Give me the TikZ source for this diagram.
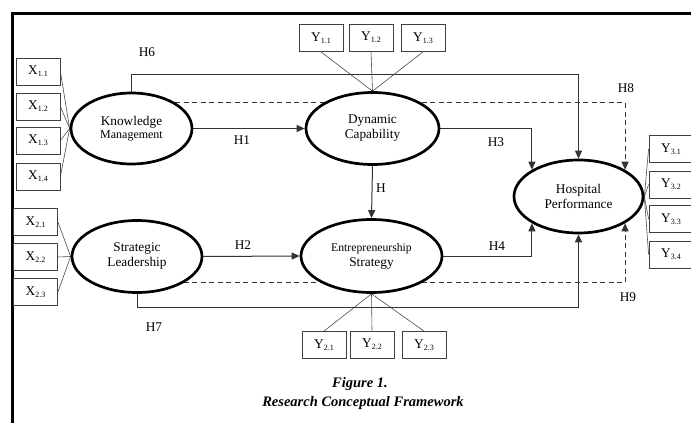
\documentclass[tikz,border=0pt]{standalone}
\usepackage{fontspec}
\setmainfont{Liberation Serif}
\usetikzlibrary{arrows.meta,shapes.geometric}
\pgfdeclarelayer{bg}
\pgfsetlayers{bg,main}
\newcommand{\lsub}[1]{{\fontsize{8}{8}\selectfont\raisebox{-2.2pt}{#1}}}
\tikzset{
  every node/.style={font=\fontsize{13.3}{15}\selectfont},
  latent/.style={ellipse,draw=black,fill=white,line width=2.7pt,inner sep=0pt,align=center},
  ind/.style={rectangle,draw=black!75,fill=white,line width=0.8pt,minimum width=44pt,minimum height=27pt,inner sep=0pt},
  meas/.style={draw=black!70,line width=0.6pt},
  path/.style={draw=black!80,line width=1pt,-{Triangle[length=8pt,width=7pt]}},
  dpath/.style={path,dash pattern=on 5pt off 3.5pt},
  hlab/.style={inner sep=0pt},
}
\begin{document}
\begin{tikzpicture}[x=1pt,y=-1pt]
\useasboundingbox (0,0) rectangle (691,423);
% frame
\draw[line width=3pt,black] (12.5,423) -- (12.5,13.5) -- (695,13.5);

% latent variables
\node[latent,minimum width=121pt,minimum height=71pt] (KM) at (131.5,128.5) {Knowledge\\[-2pt]{\fontsize{12}{13}\selectfont Management}};
\node[latent,minimum width=130pt,minimum height=72pt] (SL) at (137,256.5) {Strategic\\Leadership};
\node[latent,minimum width=133pt,minimum height=72pt] (DC) at (372.5,128.5) {Dynamic\\Capability};
\node[latent,minimum width=141pt,minimum height=73pt] (ES) at (371.5,256) {{\fontsize{11.7}{13}\selectfont Entrepreneurship}\\Strategy};
\node[latent,minimum width=129pt,minimum height=73pt] (HP) at (578.5,196.5) {Hospital\\Performance};

% indicators X1
\node[ind] (x11) at (38,71.5) {X\lsub{1.1}};
\node[ind] (x12) at (38,106.5) {X\lsub{1.2}};
\node[ind] (x13) at (38,140.5) {X\lsub{1.3}};
\node[ind] (x14) at (38,176.5) {X\lsub{1.4}};
% indicators X2
\node[ind] (x21) at (35.5,222) {X\lsub{2.1}};
\node[ind] (x22) at (35.5,257) {X\lsub{2.2}};
\node[ind] (x23) at (35.5,292) {X\lsub{2.3}};
% indicators Y1
\node[ind] (y11) at (321,38) {Y\lsub{1.1}};
\node[ind] (y12) at (371,37.5) {Y\lsub{1.2}};
\node[ind] (y13) at (423,38) {Y\lsub{1.3}};
% indicators Y2
\node[ind] (y21) at (324,345) {Y\lsub{2.1}};
\node[ind] (y22) at (372,344.5) {Y\lsub{2.2}};
\node[ind] (y23) at (424,345) {Y\lsub{2.3}};
% indicators Y3
\node[ind] (y31) at (671,149) {Y\lsub{3.1}};
\node[ind] (y32) at (671,184.5) {Y\lsub{3.2}};
\node[ind] (y33) at (671,219) {Y\lsub{3.3}};
\node[ind] (y34) at (671,254.5) {Y\lsub{3.4}};

\begin{pgfonlayer}{bg}
% measurement links
\foreach \b in {x11,x12,x13,x14} \draw[meas] (\b.east) -- (KM.west);
\foreach \b in {x21,x22,x23} \draw[meas] (\b.east) -- (SL.west);
\foreach \b in {y11,y12,y13} \draw[meas] (\b.south) -- (DC.north);
\foreach \b in {y21,y22,y23} \draw[meas] (\b.north) -- (ES.south);
\foreach \b in {y31,y32,y33,y34} \draw[meas] (\b.west) -- (HP.east);

% structural paths
\draw[path] (KM.east) -- (DC.west);
\draw[path] (SL.east) -- (ES.west);
\draw[path] (DC.south) -- (ES.north);
\draw[path] (DC.east) -| (HP.north west);
\draw[path] (ES.east) -| (HP.south west);
\draw[path] (KM.north) -- ++(0,-17) -| (HP.north);
\draw[path] (SL.south) -- ++(0,14) -| (HP.south);
\draw[dpath] (KM.north east) -| (HP.north east);
\draw[dpath] (SL.south east) -| (HP.south east);
\end{pgfonlayer}

% hypothesis labels
\node[hlab] (h6) at (147,52) {H6};
\node[hlab] (h1) at (242,140) {H1};
\node[hlab] (h3) at (496,142) {H3};
\node[hlab] (h8) at (626,88) {H8};
\node[hlab] (h) at (381,188) {H};
\node[hlab] (h2) at (243,245) {H2};
\node[hlab] (h4) at (497,246) {H4};
\node[hlab] (h9) at (628,297) {H9};
\node[hlab] (h7) at (154,327) {H7};

% caption
\node[font=\fontsize{14.5}{16}\selectfont\bfseries\itshape] (cap1) at (360,384) {Figure 1.};
\node[font=\fontsize{14.5}{16}\selectfont\bfseries\itshape] (cap2) at (363,403) {Research Conceptual Framework};
\end{tikzpicture}
\end{document}
